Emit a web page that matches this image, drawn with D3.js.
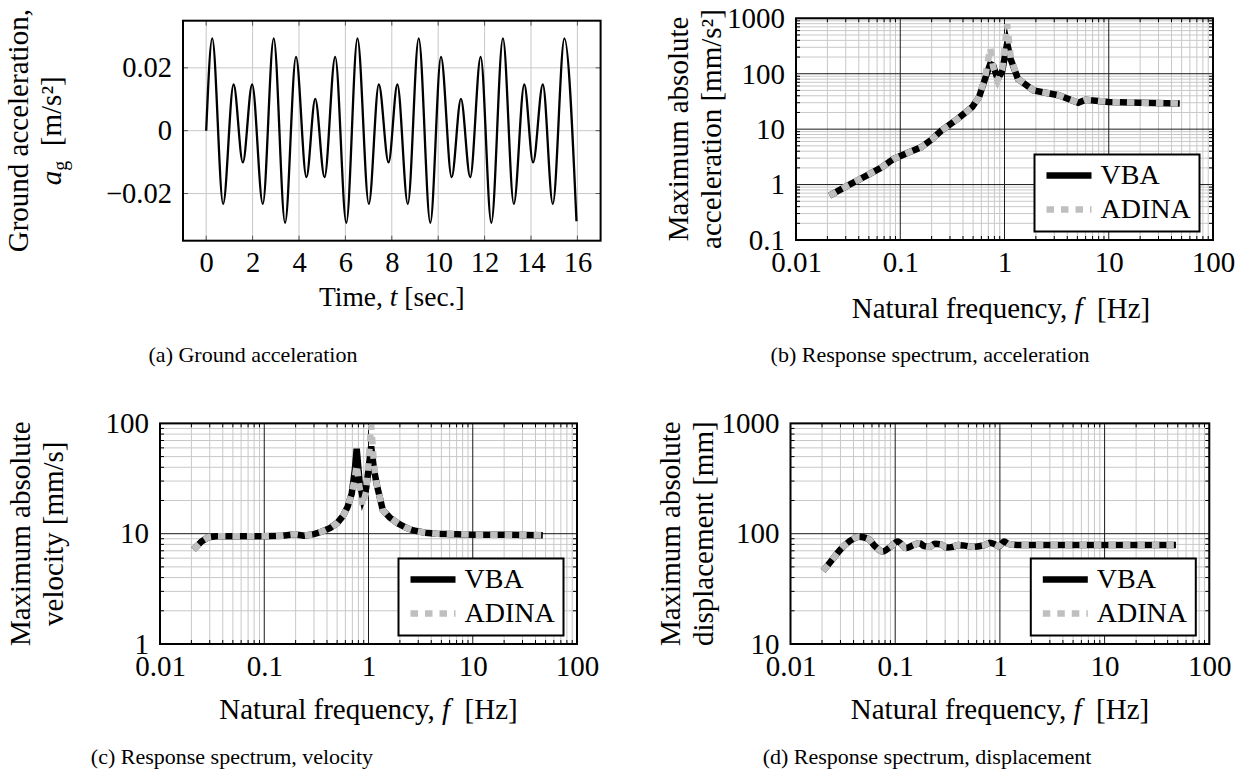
<!DOCTYPE html>
<html lang="en">
<head>
<meta charset="UTF-8">
<title>Ground acceleration and response spectra</title>
<script src="https://d3js.org/d3.v7.min.js"></script>
<style>
  body { margin: 0; background: #fff; }
  svg { display: block; font-family: "Liberation Serif", "Times New Roman", serif; }
  .grid-minor { stroke: #c8c8c8; stroke-width: 1; }
  .grid-major { stroke: #1a1a1a; stroke-width: 1; }
  .edge-tick { stroke: #000; stroke-width: 1; }
  .frame { fill: none; stroke: #000; stroke-width: 2; }
  .title { font-size: 29px; fill: #000; }
  .title-a { font-size: 27.5px; fill: #000; }
  .legend-text { font-size: 28px; fill: #000; }
  .caption { font-size: 22px; fill: #000; }
</style>
</head>
<body>
<svg id="chart" width="1245" height="776"></svg>
<script>
  // ---- data ----
  const timeTicks = [0, 2, 4, 6, 8, 10, 12, 14, 16];
  const accelTicks = [-0.02, 0, 0.02];
  const accelTickLabels = ["\u22120.02", "0", "0.02"];

  // peaks / troughs of the ground acceleration record
  const groundTime = [0, 0.26, 0.73, 1.18, 1.58, 1.98, 2.44, 2.91, 3.40, 3.87, 4.32, 4.70, 5.10, 5.56,
    6.04, 6.52, 7.01, 7.44, 7.86, 8.24, 8.69, 9.16, 9.66, 10.12, 10.58, 10.98, 11.38, 11.83,
    12.29, 12.79, 13.26, 13.71, 14.09, 14.51, 14.94, 15.44, 15.96];
  const groundAccel = [0, 0.0294, -0.0233, 0.0147, -0.0101, 0.0147, -0.0233, 0.0294, -0.0293, 0.0235,
    -0.0148, 0.0101, -0.0148, 0.0235, -0.0293, 0.0294, -0.0233, 0.0147, -0.0101, 0.0147, -0.0233,
    0.0294, -0.0293, 0.0235, -0.0148, 0.0101, -0.0148, 0.0235, -0.0293, 0.0294, -0.0233, 0.0147,
    -0.0101, 0.0147, -0.0233, 0.0294, -0.0288];

  const freqTickLabels = ["0.01", "0.1", "1", "10", "100"];
  const accTickLabels = ["0.1", "1", "10", "100", "1000"];
  const velTickLabels = ["1", "10", "100"];
  const dispTickLabels = ["10", "100", "1000"];
  const seriesNames = ["VBA", "ADINA"];

  // (b) acceleration spectrum [mm/s^2]
  const accFreq  = [0.021, 0.03, 0.047, 0.065, 0.0865, 0.12, 0.158, 0.2, 0.25, 0.35, 0.49, 0.57, 0.65,
    0.73, 0.78, 0.86, 0.95, 1.06, 1.15, 1.35, 1.9, 3.3, 5.1, 6.0, 10, 20, 48];
  const accVBA   = [0.63, 0.92, 1.44, 2.0, 2.9, 3.8, 4.7, 6.5, 9.5, 15, 25, 38, 80,
    150, 140, 80, 110, 350, 180, 80, 50, 41, 30, 34, 31, 30, 29];
  const accADINA = [0.63, 0.92, 1.44, 2.0, 2.9, 3.8, 4.7, 6.5, 9.5, 15, 25, 38, 85,
    290, 130, 76, 120, 780, 190, 80, 50, 41, 30, 34, 31, 30, 29];

  // (c) velocity spectrum [mm/s]
  const velFreq  = [0.021, 0.025, 0.029, 0.035, 0.05, 0.1, 0.15, 0.195, 0.24, 0.3, 0.354, 0.43, 0.5,
    0.57, 0.63, 0.69, 0.74, 0.77, 0.82, 0.88, 0.95, 1.0, 1.06, 1.13, 1.2, 1.37, 1.6, 1.92, 2.3, 2.7,
    3.5, 4.5, 7, 10, 20, 47];
  const velVBA   = [7.2, 8.5, 9.3, 9.5, 9.5, 9.5, 9.6, 9.9, 9.6, 9.9, 10.4, 11.3, 12.5,
    14.5, 17.5, 23, 38, 59, 30, 21, 26, 38, 62, 38, 28, 16.4, 14, 12.4, 11.3, 10.7,
    10.2, 10, 9.9, 9.8, 9.8, 9.7];
  const velADINA = [7.2, 8.5, 9.3, 9.5, 9.5, 9.5, 9.6, 9.9, 9.6, 9.9, 10.4, 11.3, 12.5,
    14.5, 17.5, 23, 32, 42, 26, 18, 24, 45, 97, 42, 28, 16.4, 14, 12.4, 11.3, 10.7,
    10.2, 10, 9.9, 9.8, 9.8, 9.7];

  // (d) displacement spectrum [mm]
  const dispFreq  = [0.0205, 0.025, 0.03, 0.037, 0.045, 0.055, 0.065, 0.076, 0.09, 0.106, 0.127, 0.15,
    0.171, 0.19, 0.211, 0.24, 0.273, 0.31, 0.354, 0.4, 0.46, 0.55, 0.63, 0.72, 0.8, 0.9, 0.98, 1.1,
    1.2, 1.5, 2, 5, 10, 20, 48];
  const dispVBA   = [46, 58, 72, 86, 94, 90, 76, 69, 76, 85, 74, 79, 82, 77, 76, 81, 80, 75, 76, 79,
    78, 76, 77, 79, 83, 80, 77, 85, 81, 79, 79, 79, 79, 79, 79];
  const dispADINA = [46, 58, 72, 86, 94, 90, 76, 69, 76, 85, 74, 79, 82, 77, 76, 81, 80, 75, 76, 79,
    78, 76, 77, 79, 83, 80, 77, 85, 81, 79, 79, 79, 79, 79, 79];

  const captions = ["(a) Ground acceleration", "(b) Response spectrum, acceleration",
    "(c) Response spectrum, velocity", "(d) Response spectrum, displacement"];

  // ---- drawing ----
  const svg = d3.select("#chart");
  const serif = '"Liberation Serif", "Times New Roman", serif';

  function axisText(size) {
    return sel => {
      sel.select(".domain").remove();
      sel.selectAll("text").style("font-size", size + "px").style("font-family", serif).attr("fill", "#000");
    };
  }

  function clip(id, b) {
    svg.append("clipPath").attr("id", id).append("rect")
      .attr("x", b.x0).attr("y", b.y0).attr("width", b.x1 - b.x0).attr("height", b.y1 - b.y0);
  }

  // rotated two-line y title; baselines given as screen x
  function yTitle(cy, bx1, bx2, line1, fillLine2) {
    svg.append("text").attr("class", "title").attr("text-anchor", "middle")
      .attr("transform", `translate(${bx1},${cy}) rotate(-90)`).text(line1);
    const t2 = svg.append("text").attr("class", "title").attr("text-anchor", "middle")
      .attr("transform", `translate(${bx2},${cy}) rotate(-90)`);
    fillLine2(t2);
  }

  function xTitle(cls, cx, by, pre, italic, post) {
    const t = svg.append("text").attr("class", cls).attr("text-anchor", "middle")
      .attr("x", cx).attr("y", by);
    t.append("tspan").text(pre);
    t.append("tspan").attr("font-style", "italic").text(italic);
    t.append("tspan").text(post);
  }

  function caption(cx, by, txt) {
    svg.append("text").attr("class", "caption").attr("text-anchor", "middle")
      .attr("x", cx).attr("y", by).text(txt);
  }

  // (a) ground acceleration
  {
    const b = { x0: 183, x1: 600.6, y0: 20.7, y1: 240.7 };
    const x = d3.scaleLinear().domain([-1, 17]).range([b.x0, b.x1]);
    const y = d3.scaleLinear().domain([-0.035, 0.035]).range([b.y1, b.y0]);
    const g = svg.append("g");

    g.selectAll(".gx").data(timeTicks).join("line").attr("class", "grid-minor")
      .attr("x1", d => x(d)).attr("x2", d => x(d)).attr("y1", b.y0).attr("y2", b.y1);
    g.selectAll(".gy").data(accelTicks).join("line").attr("class", "grid-minor")
      .attr("y1", d => y(d)).attr("y2", d => y(d)).attr("x1", b.x0).attr("x2", b.x1);

    // edge ticks
    timeTicks.forEach(d => {
      g.append("line").attr("stroke", "#555").attr("x1", x(d)).attr("x2", x(d)).attr("y1", b.y1).attr("y2", b.y1 - 5);
      g.append("line").attr("stroke", "#555").attr("x1", x(d)).attr("x2", x(d)).attr("y1", b.y0).attr("y2", b.y0 + 5);
    });
    accelTicks.forEach(d => {
      g.append("line").attr("stroke", "#555").attr("y1", y(d)).attr("y2", y(d)).attr("x1", b.x0).attr("x2", b.x0 + 5);
      g.append("line").attr("stroke", "#555").attr("y1", y(d)).attr("y2", y(d)).attr("x1", b.x1).attr("x2", b.x1 - 5);
    });

    clip("clipA", b);
    const line = d3.line().x((d, i) => x(groundTime[i])).y(d => y(d)).curve(d3.curveMonotoneX);
    g.append("path").attr("clip-path", "url(#clipA)").attr("d", line(groundAccel))
      .attr("fill", "none").attr("stroke", "#000").attr("stroke-width", 2.3);

    g.append("rect").attr("class", "frame").attr("x", b.x0).attr("y", b.y0)
      .attr("width", b.x1 - b.x0).attr("height", b.y1 - b.y0);

    g.append("g").attr("transform", `translate(0,${b.y1})`)
      .call(d3.axisBottom(x).tickValues(timeTicks).tickFormat(d => String(d)).tickSize(0).tickPadding(11))
      .call(axisText(28.5));
    g.append("g").attr("transform", `translate(${b.x0},0)`)
      .call(d3.axisLeft(y).tickValues(accelTicks).tickFormat((d, i) => accelTickLabels[i]).tickSize(0).tickPadding(11))
      .call(axisText(28.5));

    xTitle("title-a", (b.x0 + b.x1) / 2, 306, "Time, ", "t", " [sec.]");
    yTitle((b.y0 + b.y1) / 2, 28, 61, "Ground acceleration,", t => {
      t.append("tspan").attr("font-style", "italic").text("a");
      t.append("tspan").attr("font-size", 20).attr("dy", 6).text("g");
      t.append("tspan").attr("dy", -6).text("\u00a0\u00a0[m/s\u00b2]");
    });
    caption(253, 362, captions[0]);
  }

  // (b)-(d) log-log spectra
  function logPanel(id, b, yDomain, yLabels, freq, vba, adina, curve) {
    const x = d3.scaleLog().domain([0.01, 100]).range([b.x0, b.x1]);
    const y = d3.scaleLog().domain(yDomain).range([b.y1, b.y0]);
    const g = svg.append("g");
    const isDecade = v => Math.abs(Math.log10(v) - Math.round(Math.log10(v))) < 1e-9;
    const xAll = x.ticks(), yAll = y.ticks();
    const xMajor = xAll.filter(isDecade), yMajor = yAll.filter(isDecade);
    const xMinor = xAll.filter(v => !isDecade(v)), yMinor = yAll.filter(v => !isDecade(v));

    g.selectAll(".mx").data(xMinor).join("line").attr("class", "grid-minor")
      .attr("x1", d => x(d)).attr("x2", d => x(d)).attr("y1", b.y0).attr("y2", b.y1);
    g.selectAll(".my").data(yMinor).join("line").attr("class", "grid-minor")
      .attr("y1", d => y(d)).attr("y2", d => y(d)).attr("x1", b.x0).attr("x2", b.x1);
    g.selectAll(".Mx").data(xMajor).join("line").attr("class", "grid-major")
      .attr("x1", d => x(d)).attr("x2", d => x(d)).attr("y1", b.y0).attr("y2", b.y1);
    g.selectAll(".My").data(yMajor).join("line").attr("class", "grid-major")
      .attr("y1", d => y(d)).attr("y2", d => y(d)).attr("x1", b.x0).attr("x2", b.x1);

    xMinor.forEach(d => {
      g.append("line").attr("class", "edge-tick").attr("x1", x(d)).attr("x2", x(d)).attr("y1", b.y1).attr("y2", b.y1 - 4);
      g.append("line").attr("class", "edge-tick").attr("x1", x(d)).attr("x2", x(d)).attr("y1", b.y0).attr("y2", b.y0 + 4);
    });
    yMinor.forEach(d => {
      g.append("line").attr("class", "edge-tick").attr("y1", y(d)).attr("y2", y(d)).attr("x1", b.x0).attr("x2", b.x0 + 4);
      g.append("line").attr("class", "edge-tick").attr("y1", y(d)).attr("y2", y(d)).attr("x1", b.x1).attr("x2", b.x1 - 4);
    });

    clip(id, b);
    const line = d3.line().x((d, i) => x(freq[i])).y(d => y(d)).curve(curve);
    g.append("path").attr("clip-path", `url(#${id})`).attr("d", line(vba))
      .attr("fill", "none").attr("stroke", "#000").attr("stroke-width", 6.5)
      .attr("stroke-miterlimit", 8);
    g.append("path").attr("clip-path", `url(#${id})`).attr("d", line(adina))
      .attr("fill", "none").attr("stroke", "#bfbfbf").attr("stroke-width", 6.5)
      .attr("stroke-miterlimit", 8).attr("stroke-dasharray", "7.5,7");

    g.append("rect").attr("class", "frame").attr("x", b.x0).attr("y", b.y0)
      .attr("width", b.x1 - b.x0).attr("height", b.y1 - b.y0);

    g.append("g").attr("transform", `translate(0,${b.y1})`)
      .call(d3.axisBottom(x).tickValues(xMajor).tickFormat((d, i) => freqTickLabels[i]).tickSize(0).tickPadding(11))
      .call(axisText(29));
    g.append("g").attr("transform", `translate(${b.x0},0)`)
      .call(d3.axisLeft(y).tickValues(yMajor).tickFormat((d, i) => yLabels[i]).tickSize(0).tickPadding(11))
      .call(axisText(29));

    // legend
    const lw = 165, lh = 77;
    const lx = b.x1 - 13.5 - lw, ly = b.y1 - 8.5 - lh;
    const lg = g.append("g").attr("transform", `translate(${lx},${ly})`);
    lg.append("rect").attr("width", lw).attr("height", lh).attr("fill", "#fff")
      .attr("stroke", "#000").attr("stroke-width", 2);
    seriesNames.forEach((name, i) => {
      const cy = 21 + i * 34;
      lg.append("line").attr("x1", 12).attr("x2", 57).attr("y1", cy).attr("y2", cy)
        .attr("stroke", i === 0 ? "#000" : "#bfbfbf").attr("stroke-width", 6.5)
        .attr("stroke-dasharray", i === 0 ? null : "7.5,7");
      lg.append("text").attr("class", "legend-text").attr("x", 66).attr("y", cy + 8).text(name);
    });
  }

  const hzTail = "\u00a0\u00a0[Hz]";

  logPanel("clipB", { x0: 796, x1: 1213, y0: 18.3, y1: 240 }, [0.1, 1000], accTickLabels,
    accFreq, accVBA, accADINA, d3.curveLinear);
  xTitle("title", 1001, 318, "Natural frequency, ", "f", hzTail);
  yTitle(129, 688, 721, "Maximum absolute", t => t.text("acceleration\u00a0[mm/s\u00b2]"));
  caption(930, 362, captions[1]);

  logPanel("clipC", { x0: 160, x1: 577, y0: 423.4, y1: 644 }, [1, 100], velTickLabels,
    velFreq, velVBA, velADINA, d3.curveLinear);
  xTitle("title", 368.5, 719, "Natural frequency, ", "f", hzTail);
  yTitle(533.7, 30, 63, "Maximum absolute", t => t.text("velocity\u00a0[mm/s]"));
  caption(232, 764, captions[2]);

  logPanel("clipD", { x0: 790.5, x1: 1209.3, y0: 423.4, y1: 644 }, [10, 1000], dispTickLabels,
    dispFreq, dispVBA, dispADINA, d3.curveMonotoneX);
  xTitle("title", 1000, 719, "Natural frequency, ", "f", hzTail);
  yTitle(533.7, 680, 713, "Maximum absolute", t => t.text("displacement\u00a0[mm]"));
  caption(927, 764, captions[3]);
</script>
</body>
</html>
